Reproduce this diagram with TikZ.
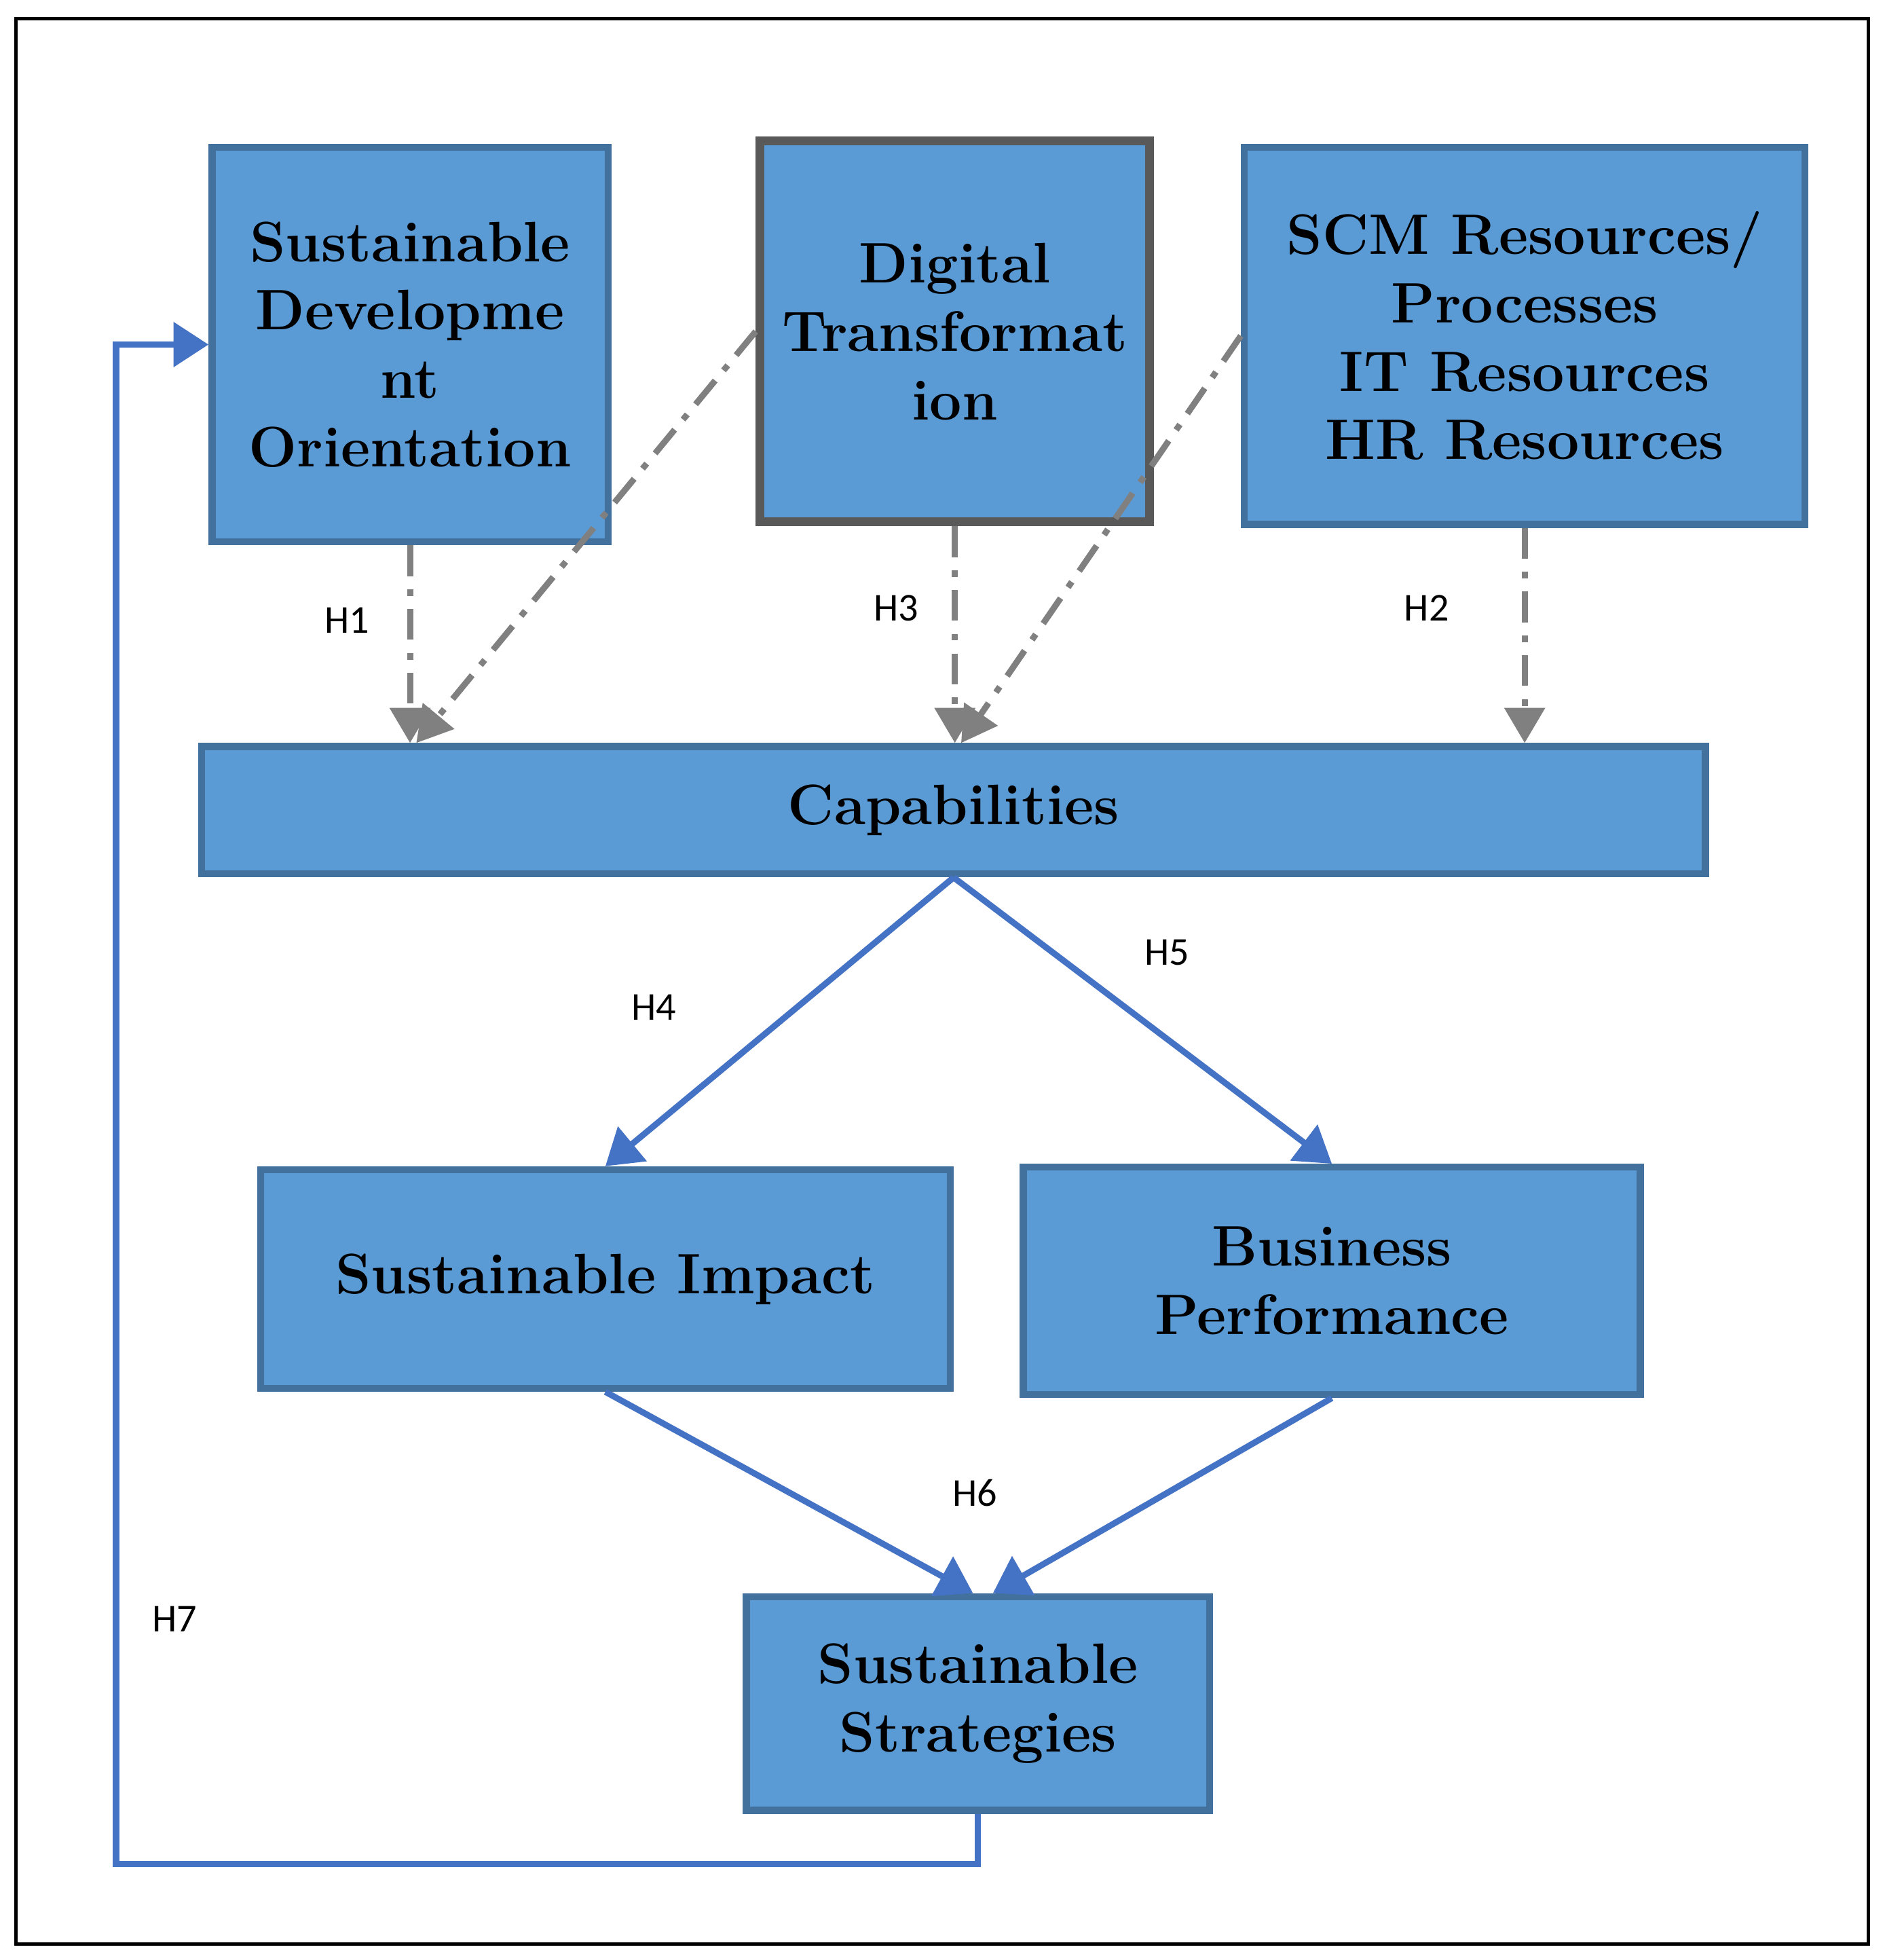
\documentclass[tikz,border=0pt]{standalone}
\usepackage{fontspec}
\newfontfamily\lab{Carlito}
\usetikzlibrary{arrows.meta}
\definecolor{boxfill}{HTML}{5B9BD5}
\definecolor{boxline}{HTML}{41719C}
\definecolor{blueline}{HTML}{4472C4}
\begin{document}
\begin{tikzpicture}[x=0.01cm,y=-0.01cm,
 box/.style={draw=boxline,line width=1.6pt,fill=boxfill,align=center,inner sep=0pt,
   font=\fontsize{13}{15.6}\selectfont\bfseries},
 gray arrow/.style={draw=gray,line width=1.4pt,dash pattern=on 7pt off 3pt on 1.5pt off 3pt,
   -{Triangle[length=8pt,width=9pt]}},
 blue arrow/.style={draw=blueline,line width=1.4pt,-{Triangle[length=8pt,width=10pt]}},
 lbl/.style={font=\lab\fontsize{9}{10}\selectfont}]
\useasboundingbox (0,0) rectangle (1510,1570);
\draw[line width=0.8pt] (13,15) rectangle (1497,1557);
\node[box,minimum width=3.17cm,minimum height=3.16cm] (sdo) at (328.5,276) {Sustainable\\Developme\\nt\\Orientation};
\node[box,draw=black!65,line width=2pt,minimum width=3.12cm,minimum height=3.05cm] (dt) at (765,265.5) {Digital\\Transformat\\ion};
\node[box,minimum width=4.49cm,minimum height=3.02cm] (scm) at (1221.5,269) {SCM Resources/\\Processes\\IT Resources\\HR Resources};
\node[box,minimum width=12.04cm,minimum height=1.02cm] (cap) at (764,649) {Capabilities};
\node[box,minimum width=5.52cm,minimum height=1.75cm] (si) at (485,1024.5) {Sustainable Impact};
\node[box,minimum width=4.94cm,minimum height=1.82cm] (bp) at (1067,1026) {Business\\Performance};
\node[box,minimum width=3.71cm,minimum height=1.71cm] (ss) at (783.5,1364.5) {Sustainable\\Strategies};
\coordinate (c7) at (93,1493);
\draw[gray arrow] (sdo.south) -- (sdo.south |- cap.north);
\draw[gray arrow] (dt.west) -- ([xshift=0.05cm]sdo.south |- cap.north);
\draw[gray arrow] (dt.south) -- (dt.south |- cap.north);
\draw[gray arrow] (scm.west) -- ([xshift=0.05cm]dt.south |- cap.north);
\draw[gray arrow] (scm.south) -- (scm.south |- cap.north);
\draw[blue arrow] (cap.south) -- (si.north);
\draw[blue arrow] (cap.south) -- (bp.north);
\draw[blue arrow] (si.south) -- ([xshift=-0.04cm]ss.north);
\draw[blue arrow] (bp.south) -- ([xshift=0.12cm]ss.north);
\draw[blue arrow] (ss.south) |- (c7) |- (sdo.west);
\node[lbl] (h1) at (278,497) {H1};
\node[lbl] (h3) at (718,487) {H3};
\node[lbl] (h2) at (1143,487) {H2};
\node[lbl] (h4) at (524,807) {H4};
\node[lbl] (h5) at (935,763) {H5};
\node[lbl] (h6) at (781,1196) {H6};
\node[lbl] (h7) at (140,1297) {H7};
\end{tikzpicture}
\end{document}
